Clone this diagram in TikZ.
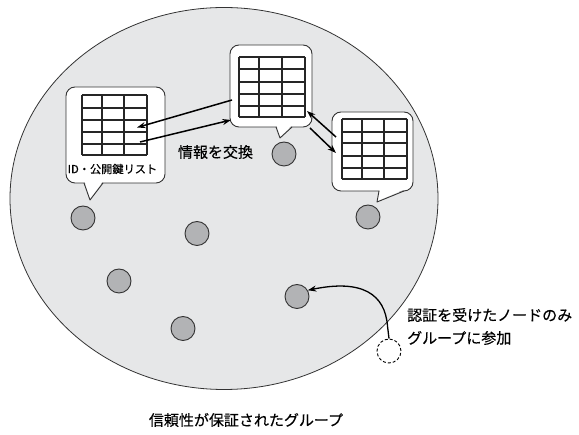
\documentclass[tikz,border=0pt]{standalone}
\usepackage{fontspec}
\setmainfont{Noto Sans CJK JP}[FakeBold=0.35]
\usetikzlibrary{arrows.meta,shapes.geometric}
\definecolor{groupfill}{HTML}{E6E7E8}
\definecolor{nodefill}{HTML}{B2B3B5}
\definecolor{edge}{HTML}{333333}
\tikzset{
  peer/.style={circle, draw=edge, fill=nodefill, line width=0.9pt, minimum size=24pt, inner sep=0pt},
  newpeer/.style={circle, draw=black, dashed, dash pattern=on 3pt off 2pt, fill=white, line width=0.9pt, minimum size=24pt, inner sep=0pt},
  bubble/.style={rectangle, rounded corners=9pt, draw=edge, fill=white, line width=0.9pt, inner sep=0pt},
  tailline/.style={draw=edge, line width=0.9pt, line join=round},
  gridline/.style={draw=black!85, line width=1.1pt},
  xarrow/.style={line width=1.5pt, -{Stealth[length=8.5pt,width=6pt]}},
  lbl/.style={inner sep=0pt, font=\fontsize{15pt}{17pt}\selectfont},
}
\begin{document}
\begin{tikzpicture}[x=1pt,y=-1pt]
\useasboundingbox (0,0) rectangle (579,435);
% group
\node[ellipse, draw=edge, fill=groupfill, line width=0.8pt, minimum width=428pt, minimum height=382pt, inner sep=0pt] (group) at (224,198.5) {};
% peers
\node[peer] (p1) at (83,218) {};
\node[peer] (p2) at (197,233.5) {};
\node[peer] (p3) at (119,281) {};
\node[peer] (p4) at (183,328.5) {};
\node[peer] (p5) at (297,296.5) {};
\node[peer] (p6) at (284,154) {};
\node[peer] (p7) at (368,217) {};
\node[newpeer] (pn) at (389,351) {};

% bubble 1
\node[bubble, minimum width=99pt, minimum height=96pt] (b1) at (115.5,135) {};
\fill[white] (84.8,182) -- (90,199) -- (102.2,182) -- cycle;
\draw[tailline] (84,183) -- (90,200) -- (103,183);
\foreach \x in {82,102,124,147} \draw[gridline] (\x,95) -- (\x,155);
\foreach \y in {95,108,120,132,144,155} \draw[gridline] (82,\y) -- (147,\y);
\node[inner sep=0pt, font=\fontsize{11.2pt}{13pt}\selectfont] (l1) at (112.5,169) {ID・公開鍵リスト};

% bubble 2
\node[bubble, minimum width=82pt, minimum height=82pt] (b2) at (271,86) {};
\fill[white] (276.8,126) -- (280,137) -- (291.2,126) -- cycle;
\draw[tailline] (276,127) -- (280,138) -- (292,127);
\foreach \x in {239,259,282,305} \draw[gridline] (\x,57) -- (\x,117);
\foreach \y in {57,69,82,94,106,117} \draw[gridline] (239,\y) -- (305,\y);

% bubble 3
\node[bubble, minimum width=81pt, minimum height=79pt] (b3) at (372.5,151.5) {};
\fill[white] (379.6,190) -- (377.5,201) -- (403,190) -- cycle;
\draw[tailline] (379,191) -- (377,202) -- (404,191);
\foreach \x in {342,362,384,407} \draw[gridline] (\x,119) -- (\x,179);
\foreach \y in {119,132,143,156,168,179} \draw[gridline] (342,\y) -- (407,\y);

% exchange arrows
\coordinate (a1s) at (232,100);
\coordinate (a1e) at (137,127.5);
\coordinate (a2s) at (140,142);
\coordinate (a2e) at (231,120);
\coordinate (a3s) at (336,137);
\coordinate (a3e) at (307,111);
\coordinate (a4s) at (310,128);
\coordinate (a4e) at (336,153);
\draw[xarrow] (a1s) -- (a1e);
\draw[xarrow] (a2s) -- (a2e);
\draw[xarrow] (a3s) -- (a3e);
\draw[xarrow] (a4s) -- (a4e);
\node[lbl] (ex) at (215.5,152) {情報を交換};

% joining arrow
\draw[xarrow, line width=1.3pt] (pn.north) -- (387.5,326) .. controls (385,294) and (362,279) .. (p5.30);

\node[lbl, anchor=west] (j1) at (407,315) {認証を受けたノードのみ};
\node[lbl, anchor=west] (j2) at (407,338) {グループに参加};
\node[lbl] (cap) at (246,420) {信頼性が保証されたグループ};
\end{tikzpicture}
\end{document}
